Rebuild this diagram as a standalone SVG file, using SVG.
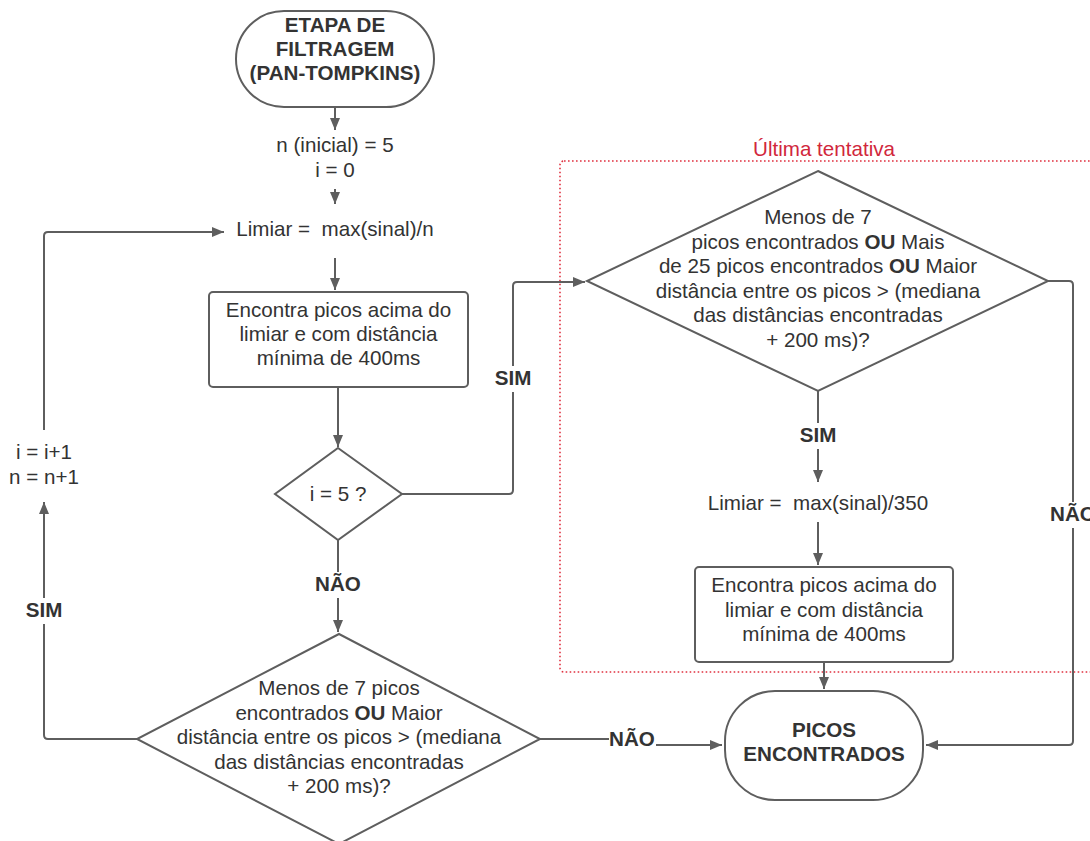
<svg xmlns="http://www.w3.org/2000/svg" width="1090" height="841" viewBox="0 0 1090 841">
<defs>
<marker id="ah" markerUnits="userSpaceOnUse" markerWidth="14" markerHeight="12" refX="12" refY="5" orient="auto">
<path d="M0,0 L12,5 L0,10 z" fill="#5e5e5e"/>
</marker>
<style>
.s{fill:#fff;stroke:#5e5e5e;stroke-width:2}
.c{fill:none;stroke:#5e5e5e;stroke-width:2}
.a{marker-end:url(#ah)}
text{font-family:"Liberation Sans",Arial,sans-serif;font-size:20.6px;fill:#333;text-anchor:middle}
.b{font-weight:bold}
.bg{fill:#fff}
</style>
</defs>
<rect width="1090" height="841" fill="#fff"/>

<g id="group-ultima">
<rect x="560" y="161" width="560" height="511" rx="4" fill="none" stroke="#e0303f" stroke-width="1.6" stroke-dasharray="1.6,2.4"/>
<text x="824" y="156" style="fill:#d1273c">Última tentativa</text>
</g>

<g id="connectors">
<path class="c a" d="M335,107 V130"/>
<path class="c a" d="M335,189 V204"/>
<path class="c a" d="M335,258 V290"/>
<path class="c a" d="M338,387 V447"/>
<path class="c a" d="M402,494 H509 Q513,494 513,490 V286 Q513,282 517,282 H585"/>
<rect class="bg" x="492" y="366" width="42" height="26"/>
<text class="b" x="513" y="385">SIM</text>
<path class="c a" d="M338,540 V632"/>
<rect class="bg" x="313" y="572" width="50" height="26"/>
<text class="b" x="338" y="591">NÃO</text>
<path class="c a" d="M137,739 H48 Q44,739 44,735 V502"/>
<rect class="bg" x="23" y="598" width="42" height="26"/>
<text class="b" x="44" y="617">SIM</text>
<path class="c a" d="M44,430 V236 Q44,232 48,232 H224"/>
<path class="c a" d="M540,739 H632 V745 H722"/>
<rect class="bg" x="609" y="727" width="47" height="26"/>
<text class="b" x="632" y="746">NÃO</text>
<path class="c a" d="M818,391 V482"/>
<rect class="bg" x="796" y="423" width="44" height="26"/>
<text class="b" x="818" y="442">SIM</text>
<path class="c a" d="M818,522 V565"/>
<path class="c a" d="M824,662 V689"/>
<path class="c a" d="M1048,281 H1069 Q1073,281 1073,285 V741 Q1073,745 1069,745 H926"/>
<rect class="bg" x="1050" y="502" width="50" height="26"/>
<text class="b" x="1073" y="521">NÃO</text>
</g>

<g id="node-etapa">
<rect class="s" x="236" y="11" width="198" height="96" rx="48"/>
<text class="b" x="335" y="32">ETAPA DE</text>
<text class="b" x="335" y="56">FILTRAGEM</text>
<text class="b" x="335" y="80">(PAN-TOMPKINS)</text>
</g>

<g id="node-init">
<text x="335" y="152">n (inicial) = 5</text>
<text x="335" y="177">i = 0</text>
</g>

<g id="node-limiar">
<text x="335" y="236" xml:space="preserve">Limiar =  max(sinal)/n</text>
</g>

<g id="node-encontra1">
<rect class="s" x="209" y="292" width="259" height="95" rx="4"/>
<text x="338.5" y="317">Encontra picos acima do</text>
<text x="338.5" y="341">limiar e com distância</text>
<text x="338.5" y="365">mínima de 400ms</text>
</g>

<g id="node-i5">
<path class="s" d="M338,448 L402,494 L338,540 L275,494 Z"/>
<text x="338" y="501">i = 5 ?</text>
</g>

<g id="node-incr">
<text x="44" y="459">i = i+1</text>
<text x="44" y="484">n = n+1</text>
</g>

<g id="node-cond1">
<path class="s" d="M339,634 L540,739 L339,844 L137,739 Z"/>
<text x="339" y="695">Menos de 7 picos</text>
<text x="339" y="719.5">encontrados <tspan class="b">OU</tspan> Maior</text>
<text x="339" y="744">distância entre os picos &gt; (mediana</text>
<text x="339" y="768.5">das distâncias encontradas</text>
<text x="339" y="793">+ 200 ms)?</text>
</g>

<g id="node-cond2">
<path class="s" d="M818,171 L1048,281 L818,391 L587,281 Z"/>
<text x="818" y="224">Menos de 7</text>
<text x="818" y="248.5">picos encontrados <tspan class="b">OU</tspan> Mais</text>
<text x="818" y="273">de 25 picos encontrados <tspan class="b">OU</tspan> Maior</text>
<text x="818" y="297.5">distância entre os picos &gt; (mediana</text>
<text x="818" y="322">das distâncias encontradas</text>
<text x="818" y="346.5">+ 200 ms)?</text>
</g>

<g id="node-limiar350">
<text x="818" y="510" xml:space="preserve">Limiar =  max(sinal)/350</text>
</g>

<g id="node-encontra2">
<rect class="s" x="695" y="567" width="258" height="95" rx="4"/>
<text x="824" y="592">Encontra picos acima do</text>
<text x="824" y="616.5">limiar e com distância</text>
<text x="824" y="641">mínima de 400ms</text>
</g>

<g id="node-picos">
<rect class="s" x="725" y="691" width="198" height="109" rx="50"/>
<text class="b" x="824" y="737">PICOS</text>
<text class="b" x="824" y="761">ENCONTRADOS</text>
</g>
</svg>
